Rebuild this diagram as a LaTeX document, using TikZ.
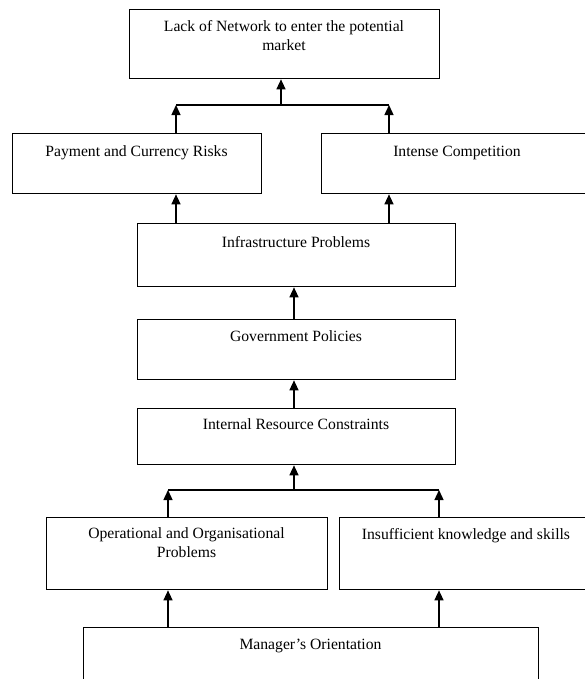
\documentclass[tikz,border=0pt]{standalone}
\usepackage{fontspec}
\setmainfont{Liberation Serif}
\usepackage{tikz}
\usetikzlibrary{arrows.meta}
\tikzset{every picture/.style={line width=1pt}}
\tikzset{
  box/.style={draw, rectangle, inner sep=0pt, anchor=north west},
  lbl/.style={anchor=north, inner sep=0pt, align=center, font=\fontsize{11.75}{14.25}\selectfont},
  arr/.style={-{Triangle[width=6.75pt,length=7.5pt]}}
}

\begin{document}
\begin{tikzpicture}[x=0.75pt,y=0.75pt,yscale=-1,xscale=1]
		\useasboundingbox (0,0) rectangle (585,679); %set diagram to 585 x 679
		
		%Shape: Rectangle
		\node [box, minimum width=232.5pt, minimum height=51.75pt] (net) at (129,9) {};
		%Shape: Rectangle
		\node [box, minimum width=186.75pt, minimum height=45pt] (pay) at (12,133) {};
		%Shape: Rectangle
		\node [box, minimum width=204pt, minimum height=45pt] (comp) at (321,133) {};
		%Shape: Rectangle
		\node [box, minimum width=238.5pt, minimum height=47.25pt] (infra) at (137,223) {};
		%Shape: Rectangle
		\node [box, minimum width=238.5pt, minimum height=45pt] (gov) at (137,319) {};
		%Shape: Rectangle
		\node [box, minimum width=238.5pt, minimum height=42pt] (irc) at (137,408) {};
		%Shape: Rectangle
		\node [box, minimum width=210.75pt, minimum height=54pt] (ops) at (46,517) {};
		%Shape: Rectangle
		\node [box, minimum width=190.5pt, minimum height=54pt] (skill) at (339,517) {};
		%Shape: Rectangle
		\node [box, minimum width=341.25pt, minimum height=47.25pt] (mgr) at (83,627) {};
		
		%Straight Lines
		\coordinate (topJ) at (281,105);
		\coordinate (topL) at (176,105);
		\coordinate (topR) at (389,105);
		\draw (topL) -- (topR);
		\draw [arr] (topJ) -- (topJ |- net.south);
		\draw [arr] (topL |- pay.north) -- (topL);
		\draw [arr] (topR |- comp.north) -- (topR);
		
		%Straight Lines
		\draw [arr] (topL |- infra.north) -- (topL |- pay.south);
		\draw [arr] (topR |- infra.north) -- (topR |- comp.south);
		
		%Straight Lines
		\coordinate (lowJ) at (294,490);
		\coordinate (lowL) at (168,490);
		\coordinate (lowR) at (439,490);
		\draw [arr] (lowJ |- gov.north) -- (lowJ |- infra.south);
		\draw [arr] (lowJ |- irc.north) -- (lowJ |- gov.south);
		\draw (lowL) -- (lowR);
		\draw [arr] (lowJ) -- (lowJ |- irc.south);
		\draw [arr] (lowL |- ops.north) -- (lowL);
		\draw [arr] (lowR |- skill.north) -- (lowR);
		
		%Straight Lines
		\draw [arr] (lowL |- mgr.north) -- (lowL |- ops.south);
		\draw [arr] (lowR |- mgr.north) -- (lowR |- skill.south);
		
		% Text Node
		\node [lbl] (netTxt) at (284,19.5) {Lack of Network to enter the potential\\market};
		% Text Node
		\node [lbl] (payTxt) at (136.5,145) {Payment and Currency Risks};
		% Text Node
		\node [lbl] (compTxt) at (457,145) {Intense Competition};
		% Text Node
		\node [lbl] (infraTxt) at (296,236) {Infrastructure Problems};
		% Text Node
		\node [lbl] (govTxt) at (296,330) {Government Policies};
		% Text Node
		\node [lbl] (ircTxt) at (296,418) {Internal Resource Constraints};
		% Text Node
		\node [lbl] (opsTxt) at (186.5,527) {Operational and Organisational\\Problems};
		% Text Node
		\node [lbl] (skillTxt) at (466,528) {Insufficient knowledge and skills};
		% Text Node
		\node [lbl] (mgrTxt) at (310.5,638) {Manager's Orientation};
		
\end{tikzpicture}
\end{document}
